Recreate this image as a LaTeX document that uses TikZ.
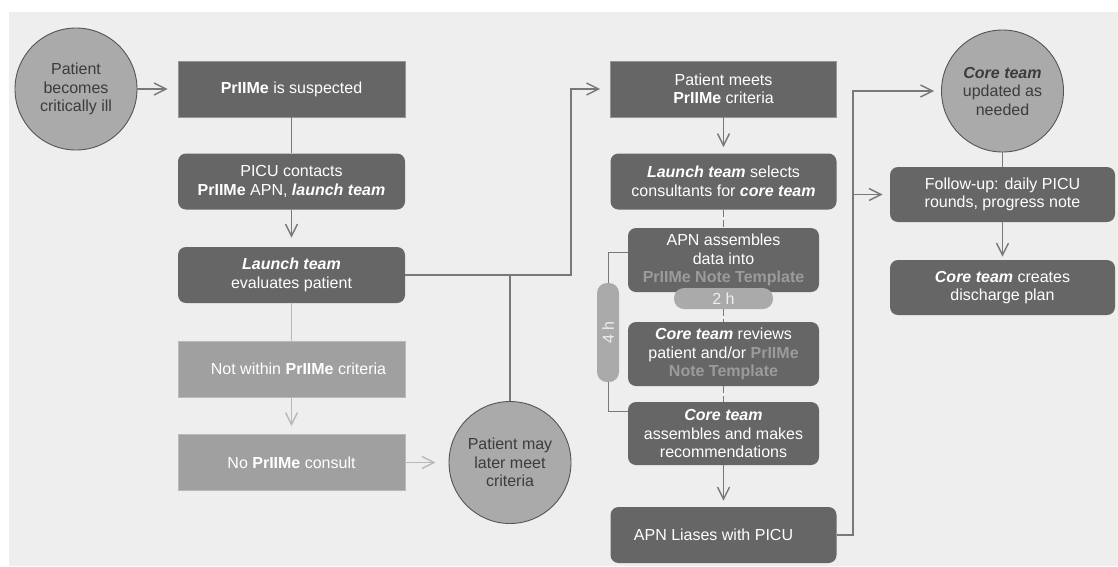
\documentclass[tikz,border=0pt]{standalone}
\usepackage{fontspec}
\setmainfont{Liberation Sans}
\usepackage{graphicx}
\usepackage{tikz}
\usetikzlibrary{positioning,calc}
\usetikzlibrary{arrows.meta}
\definecolor{PanelGray}{RGB}{238,238,238}
\definecolor{BoxGray}{RGB}{102,102,102}
\definecolor{BoxEdge}{RGB}{150,150,150}
\definecolor{FadeGray}{RGB}{160,160,160}
\definecolor{CircGray}{RGB}{170,170,170}
\definecolor{RimGray}{RGB}{85,85,85}
\definecolor{LineGray}{RGB}{120,120,120}
\definecolor{FaintGray}{RGB}{185,185,185}
\definecolor{NoteGray}{RGB}{155,155,155}
\definecolor{TextGray}{RGB}{60,60,60}
\tikzset{
  sbox/.style={rectangle,draw=BoxEdge,line width=0.8pt,fill=BoxGray,text=white,
    minimum width=227pt,minimum height=56pt,inner sep=2pt,align=center,
    font=\fontsize{16}{18.5}\selectfont},
  rbox/.style={sbox,draw=none,rounded corners=8pt},
  gbox/.style={sbox,draw=FaintGray,fill=FadeGray},
  circ/.style={circle,draw=RimGray,line width=0.9pt,fill=CircGray,text=TextGray,
    minimum size=122pt,inner sep=0pt,align=center,font=\fontsize{16}{18.5}\selectfont},
  pill/.style={rectangle,rounded corners=10pt,fill=CircGray,text=PanelGray,inner sep=0pt,
    font=\fontsize{16}{18.5}\selectfont},
}
\tikzset{edge/.style={draw=LineGray,line width=1.4pt}, arr/.style={edge,-{Straight Barb[length=12pt,width=12pt]}},
  faint/.style={draw=FaintGray,line width=1.4pt}, faintarr/.style={faint,-{Straight Barb[length=12pt,width=12pt]}},
  dashlink/.style={edge,dash pattern=on 7pt off 3pt}}

\newcommand{\prm}{\textbf{PrIIMe}}
\newcommand{\team}[1]{\textbf{\textit{#1}}}

\begin{document}
\begin{tikzpicture}[x=1pt,y=-1pt]
\useasboundingbox (0,0) rectangle (1118,566);
\fill[PanelGray] (9,12) rectangle (1118,566);
% left column
\coordinate (p1) at (76,89);
\coordinate (p2) at (291.5,89);
\coordinate (p3) at (291.5,181.5);
\coordinate (p4) at (291.5,275);
\coordinate (p5) at (291.5,369);
\coordinate (p6) at (291.5,462.5);
\coordinate (p7) at (510,462.5);
% middle column
\coordinate (m1) at (723.5,89);
\coordinate (m2) at (723.5,181.5);
\coordinate (m3) at (723.5,260);
\coordinate (m4) at (723.5,298.5);
\coordinate (m5) at (723.5,354);
\coordinate (m6) at (723.5,433.5);
\coordinate (m7) at (723.5,535);
\coordinate (m8) at (608,332.5);
% right column
\coordinate (r1) at (1002.5,91);
\coordinate (r2) at (1002.5,194.5);
\coordinate (r3) at (1002.5,287.5);

\node[circ] (c_ill) at (p1) {Patient\\becomes\\critically ill};
\node[sbox] (b_susp) at (p2) {\prm{} is suspected};
\node[rbox] (b_picu) at (p3) {PICU contacts\\\prm{} APN, \team{launch team}};
\node[rbox] (b_launch) at (p4) {\team{Launch team}\\evaluates patient};
\node[gbox] (b_notwithin) at (p5) {\hspace*{14pt}Not within \prm{} criteria};
\node[gbox] (b_nocons) at (p6) {No \prm{} consult};
\node[circ] (c_later) at (p7) {Patient may\\later meet\\criteria};

\node[sbox,minimum width=226pt] (b_meets) at (m1) {Patient meets\\\prm{} criteria};
\node[rbox,minimum width=226pt] (b_select) at (m2) {\team{Launch team} selects\\consultants for \team{core team}};
\node[rbox,minimum width=191pt,minimum height=64pt] (b_assem) at (m3)
  {APN assembles\\data into\\\textcolor{NoteGray}{\textbf{PrIIMe Note Template}}};
\node[pill,minimum width=99pt,minimum height=21pt] (p_2h) at (m4) {2 h};
\node[rbox,minimum width=191pt,minimum height=64pt] (b_review) at (m5)
  {\team{Core team} reviews\\patient and/or \textcolor{NoteGray}{\textbf{PrIIMe}}\\\textcolor{NoteGray}{\textbf{Note Template}}};
\node[rbox,minimum width=191pt,minimum height=63pt] (b_recom) at (m6)
  {\team{Core team}\\assembles and makes\\recommendations};
\node[rbox,minimum width=226pt] (b_liase) at (m7) {APN Liases with PICU\hspace*{20pt}};
\node[pill,minimum width=22pt,minimum height=99pt] (p_4h) at (m8) {\rotatebox{90}{4 h}};

\node[circ] (c_upd) at (r1) {\team{Core team}\\updated as\\needed};
\node[rbox,minimum width=225pt,minimum height=55pt] (b_follow) at (r2) {Follow-up: daily PICU\\rounds, progress note};
\node[rbox,minimum width=225pt,minimum height=55pt] (b_disch) at (r3) {\team{Core team} creates\\discharge plan};

\coordinate (j_up) at (571,89);
\coordinate (j_rt) at (853,91);

\draw[arr,shorten >=10pt] (c_ill) -- (b_susp);
\draw[edge] (b_susp) -- (b_picu);
\draw[arr,shorten >=9pt] (b_picu) -- (b_launch);
\draw[arr,shorten >=10pt] (b_launch.east) -| (j_up) -- (b_meets.west);
\draw[edge] (b_launch.east -| c_later) -- (c_later);
\draw[faint] (b_launch) -- (b_notwithin);
\draw[faintarr,shorten >=8pt] (b_notwithin) -- (b_nocons);
\draw[faintarr,shorten >=13pt] (b_nocons) -- (c_later);

\draw[arr,shorten >=6pt] (b_meets) -- (b_select);
\draw[dashlink] (b_select) -- (b_assem);
\draw[dashlink] (p_2h) -- (b_review);
\draw[dashlink] (b_review) -- (b_recom);
\draw[edge,line width=1pt] ([yshift=8pt]b_assem.west) -| (p_4h.north);
\draw[edge,line width=1pt] (p_4h.south) |- ([yshift=22pt]b_recom.west);
\draw[arr,shorten >=6pt] (b_recom) -- (b_liase);

\draw[arr,shorten >=7pt] (b_liase.east) -| (j_rt) -- (c_upd);
\draw[arr,shorten >=7pt] (b_follow.west -| j_rt) -- (b_follow.west);
\draw[edge] (c_upd) -- (b_follow);
\draw[arr,shorten >=3pt] (b_follow) -- (b_disch);
\end{tikzpicture}
\end{document}
